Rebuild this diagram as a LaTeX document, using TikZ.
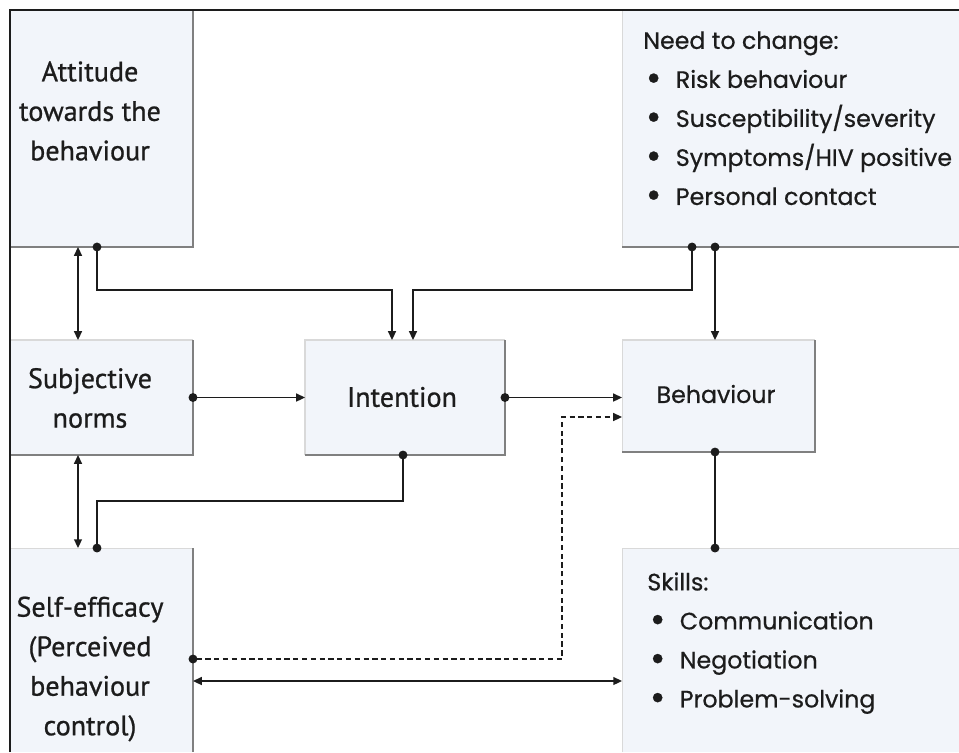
\documentclass[tikz,border=0pt]{standalone}
\usepackage{fontspec}
\setmainfont[FakeBold=0.6]{Poppins}
\newfontfamily\boxfont[FakeBold=0.8]{PT Sans}
\usetikzlibrary{arrows.meta}
\definecolor{boxfill}{RGB}{242,245,250}
\definecolor{boxedge}{RGB}{128,128,128}
\definecolor{ink}{RGB}{28,28,28}
\newcommand{\itm}{\hspace*{0.05cm}\makebox[0.6cm][l]{\raisebox{-0.12em}{\scalebox{1.6}{\textbullet}}}}
\tikzset{
  box/.style={fill=boxfill, inner sep=0pt, outer sep=0pt},
  edge/.style={draw=boxedge, line width=0.8pt},
  faint/.style={draw=gray!30, line width=0.6pt},
  frame/.style={draw=ink, line width=1.3pt},
  lefttext/.style={font=\boxfont\fontsize{16}{22.5}\selectfont, align=center, text=ink},
  listtext/.style={font=\fontsize{13.5}{22.2}\selectfont, align=left, text=ink, inner sep=0pt},
  link/.style={draw=ink, line width=0.9pt},
  dotarrow/.style={link, {Circle[length=5pt]}-{Triangle[length=5pt,width=4.5pt]}, shorten <=-2.5pt},
  biarrow/.style={link, {Triangle[length=5pt,width=4.5pt]}-{Triangle[length=5pt,width=4.5pt]}},
  dotline/.style={link, {Circle[length=5pt]}-{Circle[length=5pt]}, shorten <=-2.5pt, shorten >=-2.5pt}
}
\begin{document}
\begin{tikzpicture}[x=0.02cm,y=-0.02cm]
  \useasboundingbox (0,0) rectangle (959,752);
  \node[box, minimum width=3.66cm, minimum height=4.74cm] (att) at (101.5,128.5) {};
  \node[box, minimum width=3.66cm, minimum height=2.30cm] (subj) at (101.5,397.5) {};
  \node[box, minimum width=4.00cm, minimum height=2.30cm] (intn) at (405,397.5) {};
  \node[box, minimum width=3.86cm, minimum height=2.24cm] (beh) at (718.5,396) {};
  \node[box, minimum width=6.74cm, minimum height=4.74cm] (need) at (790.5,128.5) {};
  \node[box, minimum width=3.66cm, minimum height=4.08cm] (self) at (101.5,650) {};
  \node[box, minimum width=6.74cm, minimum height=4.08cm] (skill) at (790.5,650) {};

  \draw[edge] (att.north east) -- (att.south east) -- (att.south west);
  \draw[faint] (subj.north west) -- (subj.north east);
  \draw[edge] (subj.north east) -- (subj.south east) -- (subj.south west);
  \draw[faint] (intn.south west) |- (intn.north east);
  \draw[edge] (intn.north east) -- (intn.south east) -- (intn.south west);
  \draw[faint] (beh.south west) |- (beh.north east);
  \draw[edge] (beh.north east) -- (beh.south east) -- (beh.south west);
  \draw[faint] (need.north west) -- (need.south west);
  \draw[edge] (need.south west) -- (need.south east);
  \draw[faint] (self.north west) -- (self.north east);
  \draw[edge] (self.north east) -- (self.south east);
  \draw[faint] (skill.south west) |- (skill.north east);

  \draw[frame] (10,752) -- (10,10) -- (959,10);

  \node[lefttext] (attT) at (90,111) {Attitude\\towards the\\behaviour};
  \node[lefttext] (subjT) at (90,398) {Subjective\\norms};
  \node[lefttext] (intnT) at (402,397) {Intention};
  \node[lefttext] (selfT) at (90,669) {Self-efficacy\\(Perceived\\behaviour\\control)};
  \node[listtext] (behT) at (716,394) {Behaviour};
  \node[listtext, anchor=north west] (needT) at (643,31)
    {Need to change:\\\itm Risk behaviour\\\itm Susceptibility/severity\\\itm Symptoms/HIV positive\\\itm Personal contact};
  \node[listtext, anchor=north west] (skillT) at (647,572)
    {Skills:\\\itm Communication\\\itm Negotiation\\\itm Problem-solving};

  \draw[biarrow] ([xshift=-0.47cm]att.south) -- ([xshift=-0.47cm]subj.north);
  \draw[dotarrow] ([xshift=-0.09cm]att.south) -- ++(0,-0.86cm) -| ([xshift=-0.26cm]intn.north);
  \draw[dotarrow] ([xshift=-1.97cm]need.south) -- ++(0,-0.86cm) -| ([xshift=0.16cm]intn.north);
  \draw[dotarrow] ([xshift=-1.51cm]need.south) -- ([xshift=-0.07cm]beh.north);
  \draw[dotarrow] (subj.east) -- (intn.west);
  \draw[dotarrow] (intn.east) -- (intn.east -| beh.west);
  \draw[biarrow] ([xshift=-0.47cm]subj.south) -- ([xshift=-0.47cm]self.north);
  \draw[dotline] ([xshift=-0.04cm]intn.south) -- ++(0,-0.92cm) -| ([xshift=-0.09cm]self.north);
  \draw[dotarrow, dash pattern=on 3pt off 2pt] ([yshift=-0.18cm]self.east) -| ([xshift=-1.2cm,yshift=-0.42cm]beh.west) -- ([yshift=-0.42cm]beh.west);
  \draw[biarrow] ([yshift=-0.62cm]self.east) -- ([yshift=-0.62cm]skill.west);
  \draw[dotline] ([xshift=-0.07cm]beh.south) -- ([xshift=-1.51cm]skill.north);
\end{tikzpicture}
\end{document}
